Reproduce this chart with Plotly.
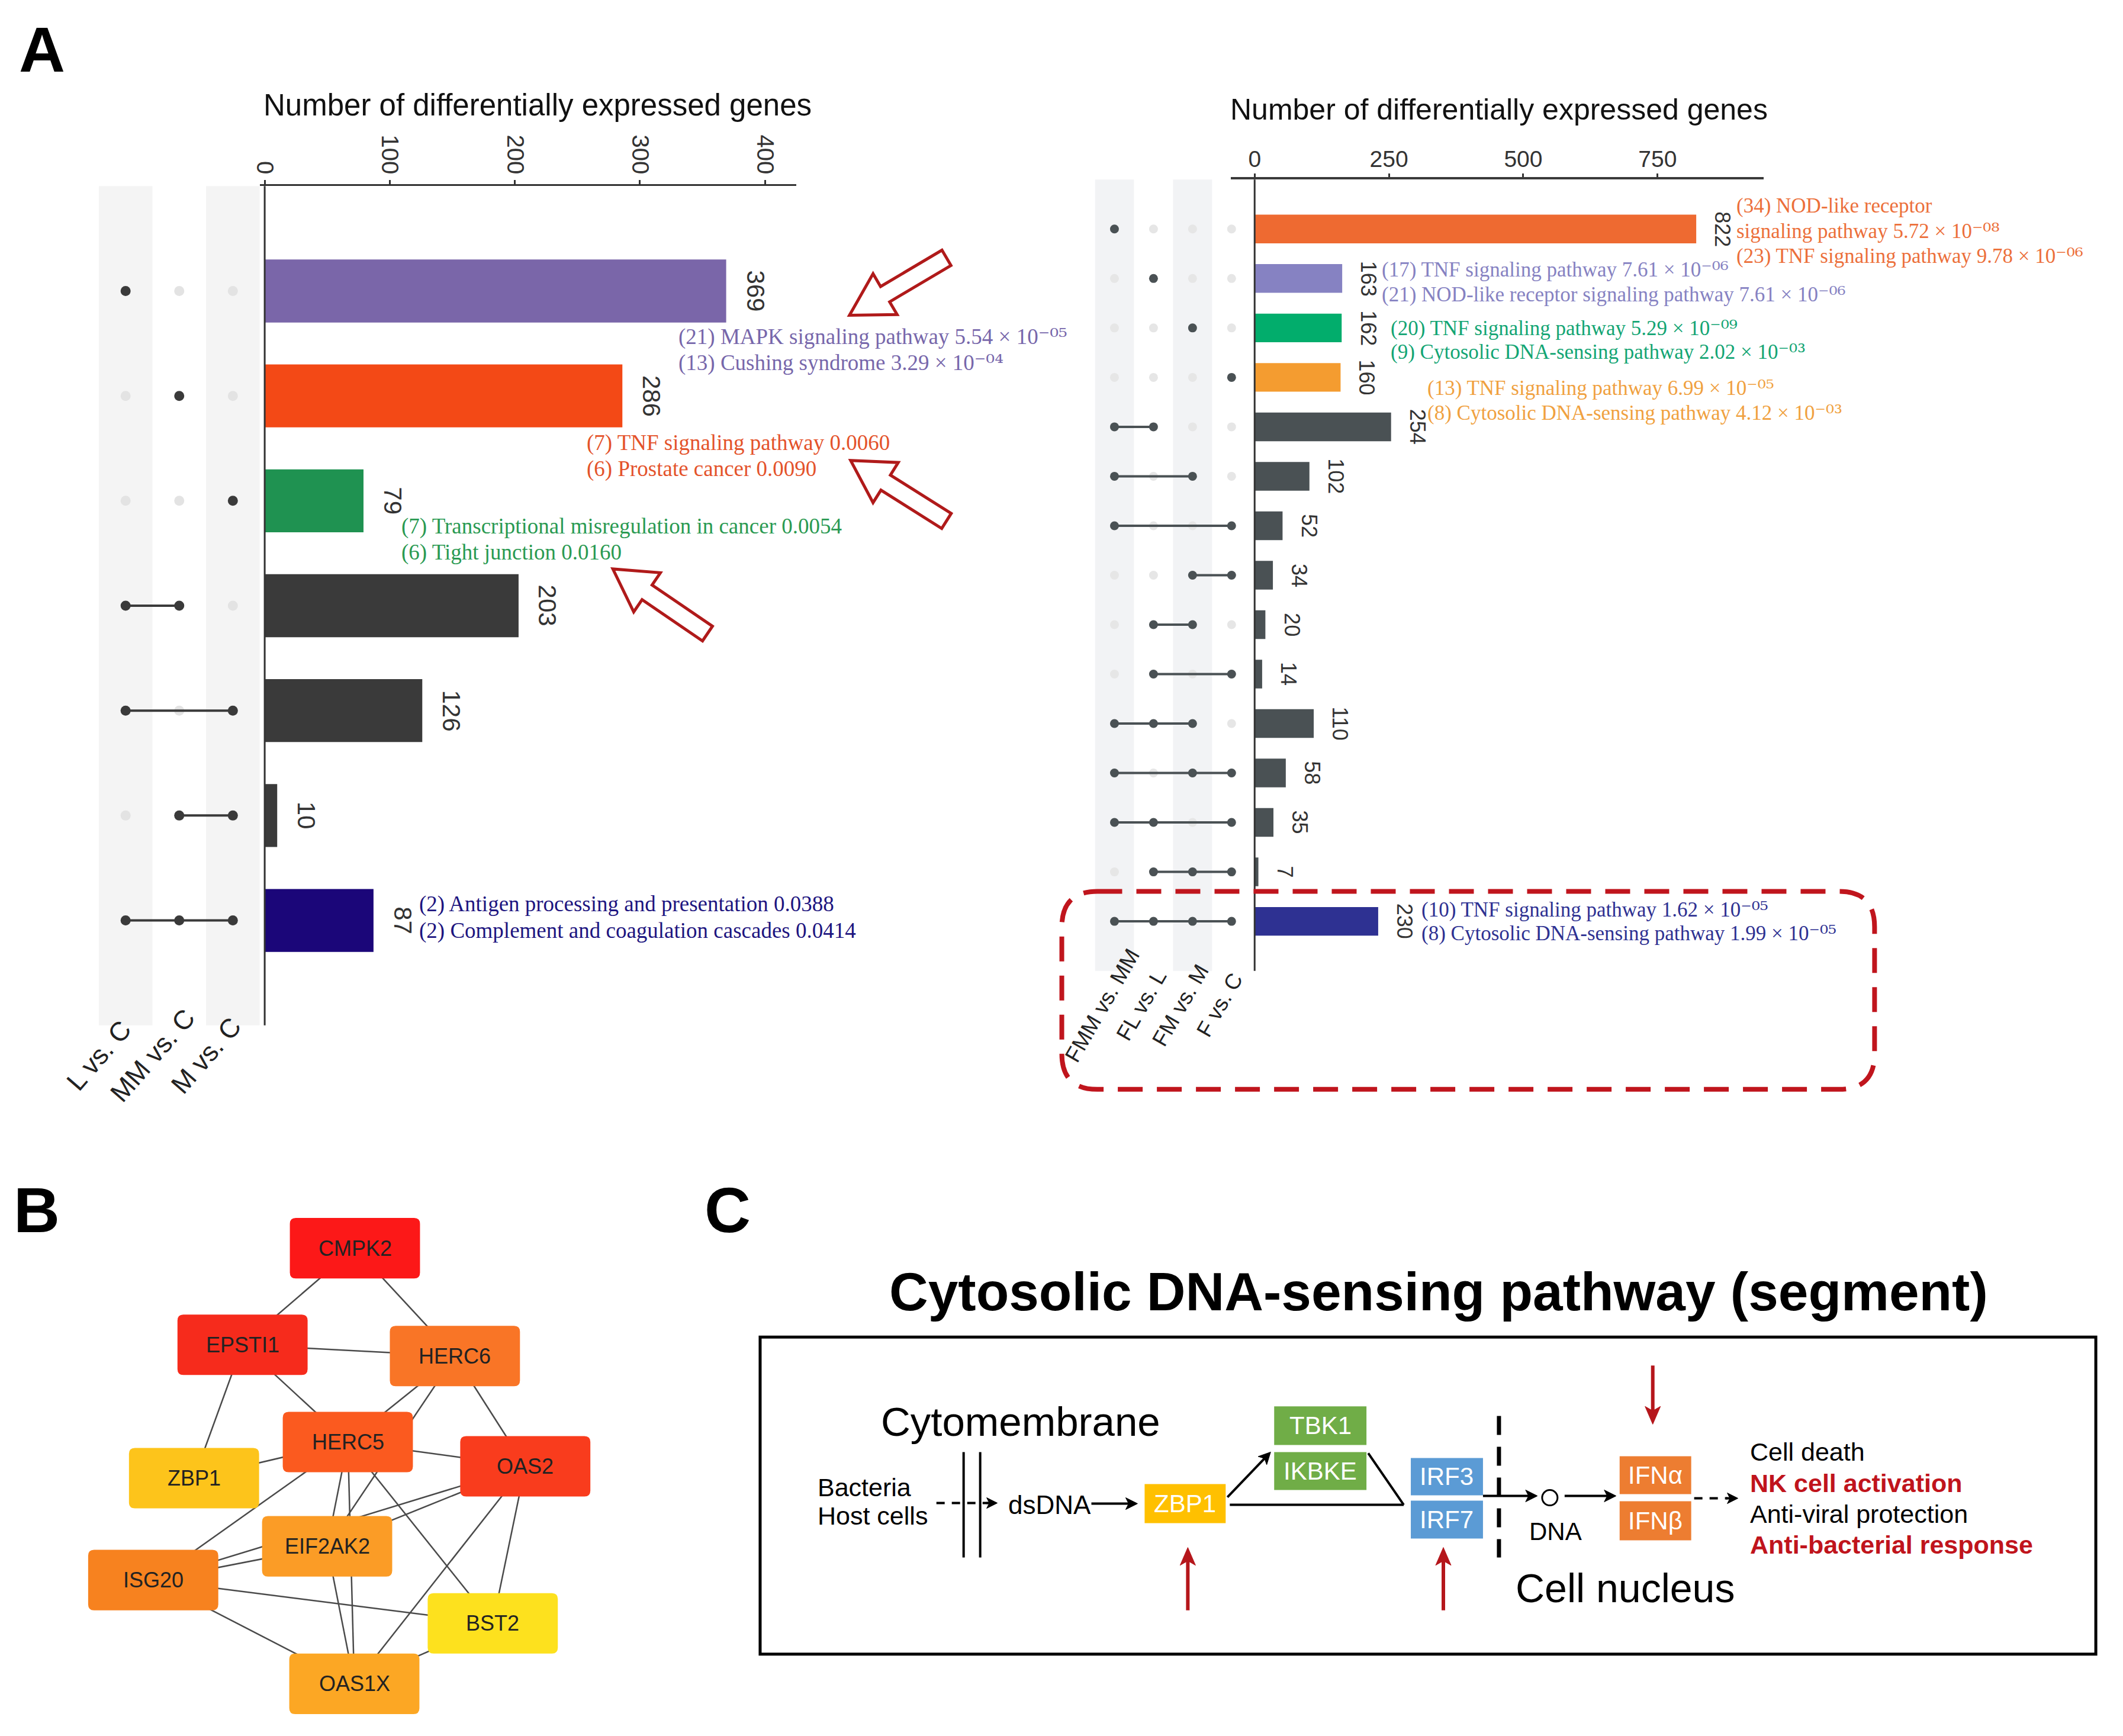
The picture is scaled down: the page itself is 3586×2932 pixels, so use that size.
import math
import re
import plotly.graph_objects as go

W, H = 3586, 2932

# ------------------------------------------------------------------ data
left_sets = ["L vs. C", "MM vs. C", "M vs. C"]
left_counts = [369, 286, 79, 203, 126, 10, 87]
left_members = [[1, 0, 0], [0, 1, 0], [0, 0, 1], [1, 1, 0], [1, 0, 1], [0, 1, 1], [1, 1, 1]]
left_colors = ["#7a66a9", "#f34916", "#1f9251", "#3a3a3a", "#3a3a3a", "#3a3a3a", "#1b0679"]
left_ticks = [0, 100, 200, 300, 400]
left_notes = [
    ["(21) MAPK signaling pathway 5.54 × 10⁻⁰⁵", "(13) Cushing syndrome 3.29 × 10⁻⁰⁴"],
    ["(7) TNF signaling pathway 0.0060", "(6) Prostate cancer 0.0090"],
    ["(7) Transcriptional misregulation in cancer 0.0054", "(6) Tight junction 0.0160"],
    ["(2) Antigen processing and presentation 0.0388", "(2) Complement and coagulation cascades 0.0414"],
]
left_note_colors = ["#7767ab", "#e4532b", "#2a9a52", "#1d1580"]

right_sets = ["FMM vs. MM", "FL vs. L", "FM vs. M", "F vs. C"]
right_counts = [822, 163, 162, 160, 254, 102, 52, 34, 20, 14, 110, 58, 35, 7, 230]
right_members = [
    [1, 0, 0, 0], [0, 1, 0, 0], [0, 0, 1, 0], [0, 0, 0, 1],
    [1, 1, 0, 0], [1, 0, 1, 0], [1, 0, 0, 1], [0, 0, 1, 1], [0, 1, 1, 0], [0, 1, 0, 1],
    [1, 1, 1, 0], [1, 0, 1, 1], [1, 1, 0, 1], [0, 1, 1, 1], [1, 1, 1, 1],
]
right_colors = ["#ee6a31", "#8682c2", "#02ad6c", "#f49c30"] + ["#4a5154"] * 10 + ["#2e3192"]
right_ticks = [0, 250, 500, 750]
right_notes = [
    ["(34) NOD-like receptor", "signaling pathway 5.72 × 10⁻⁰⁸",
     "(23) TNF signaling pathway 9.78 × 10⁻⁰⁶"],
    ["(17) TNF signaling pathway 7.61 × 10⁻⁰⁶",
     "(21) NOD-like receptor signaling pathway 7.61 × 10⁻⁰⁶"],
    ["(20) TNF signaling pathway 5.29 × 10⁻⁰⁹",
     "(9) Cytosolic DNA-sensing pathway 2.02 × 10⁻⁰³"],
    ["(13) TNF signaling pathway 6.99 × 10⁻⁰⁵",
     "(8) Cytosolic DNA-sensing pathway 4.12 × 10⁻⁰³"],
    ["(10) TNF signaling pathway 1.62 × 10⁻⁰⁵",
     "(8) Cytosolic DNA-sensing pathway 1.99 × 10⁻⁰⁵"],
]
right_note_colors = ["#ec6f3a", "#8682c2", "#13a574", "#f0a13f", "#2e3192"]

axis_title = "Number of differentially expressed genes"

genes = ["CMPK2", "EPSTI1", "HERC6", "HERC5", "ZBP1", "OAS2", "EIF2AK2", "ISG20", "BST2", "OAS1X"]
gene_colors = ["#fc1818", "#f62b1c", "#f97526", "#fb5a1f", "#fdc41b", "#f93c1d",
               "#fb9c26", "#f7821f", "#fde11e", "#fca724"]
edges = [("CMPK2", "EPSTI1"), ("CMPK2", "HERC6"), ("EPSTI1", "HERC6"), ("EPSTI1", "ZBP1"),
         ("EPSTI1", "HERC5"), ("HERC6", "HERC5"), ("HERC6", "EIF2AK2"), ("HERC6", "OAS2"),
         ("HERC5", "ZBP1"), ("HERC5", "OAS2"), ("HERC5", "ISG20"), ("HERC5", "EIF2AK2"),
         ("HERC5", "OAS1X"), ("HERC5", "BST2"), ("OAS2", "EIF2AK2"), ("OAS2", "ISG20"),
         ("ISG20", "EIF2AK2"), ("ISG20", "BST2"), ("ISG20", "OAS1X"), ("EIF2AK2", "OAS1X"),
         ("OAS2", "OAS1X"), ("OAS2", "BST2"), ("BST2", "OAS1X")]

pathway_title = "Cytosolic DNA-sensing pathway (segment)"
outcomes = ["Cell death", "NK cell activation", "Anti-viral protection", "Anti-bacterial response"]
outcome_highlight = [False, True, False, True]

# ------------------------------------------------------------------ layout helpers (pixels)
# small correction so that target pixel positions land where intended in the page photo
SX, OX = 0.9972, 19.0
SY, OY = 0.999, 9.0


def fx(px):
    return (px - OX) / SX / W


def fy(py):
    return 1 - (py - OY) / SY / H


def rrect(x0, y0, x1, y1, r):
    return (f"M{x0+r},{y0} L{x1-r},{y0} Q{x1},{y0} {x1},{y0+r} L{x1},{y1-r} "
            f"Q{x1},{y1} {x1-r},{y1} L{x0+r},{y1} Q{x0},{y1} {x0},{y1-r} "
            f"L{x0},{y0+r} Q{x0},{y0} {x0+r},{y0} Z")


def block_arrow(tip, tail, hl=70, wh=40, ws=15):
    tx, ty = tip
    sx, sy = tail
    L = math.hypot(tx - sx, ty - sy)
    ux, uy = (tx - sx) / L, (ty - sy) / L
    nx, ny = -uy, ux
    hx, hy = tx - ux * hl, ty - uy * hl
    pts = [(sx + nx * ws, sy + ny * ws), (hx + nx * ws, hy + ny * ws), (hx + nx * wh, hy + ny * wh),
           (tx, ty), (hx - nx * wh, hy - ny * wh), (hx - nx * ws, hy - ny * ws),
           (sx - nx * ws, sy - ny * ws)]
    return "M" + " L".join(f"{x:.1f},{y:.1f}" for x, y in pts) + " Z"


def head_path(head, tail, hl, hw):
    tx, ty = head
    sx, sy = tail
    L = math.hypot(tx - sx, ty - sy)
    ux, uy = (tx - sx) / L, (ty - sy) / L
    nx, ny = -uy, ux
    bx, by = tx - ux * hl, ty - uy * hl
    return (f"M{tx:.1f},{ty:.1f} L{bx + nx*hw:.1f},{by + ny*hw:.1f} "
            f"L{bx + ux*hl*0.25:.1f},{by + uy*hl*0.25:.1f} L{bx - nx*hw:.1f},{by - ny*hw:.1f} Z")


SANS = "Liberation Sans, Arial, sans-serif"
SERIF = "Liberation Serif, Times New Roman, serif"
SUP_RE = re.compile("([⁻⁰¹²³⁴⁵⁶⁷⁸⁹]+)")


def styled_sup(text, size):
    # render the superscript run in one font that carries all superscript glyphs
    return SUP_RE.sub(lambda m: f'<span style="font-family:DejaVu Serif;font-size:{size}px">'
                                f'{m.group(1)}</span>', text)


fig = go.Figure()
shapes = []
annotations = []


# ------------------------------------------------------------------ upset plot builder
def upset(counts, members, colors, sets, xa, ya, xm, bar_w, dot_size, dot_col, off_col, lw,
          band_col, band_cols, lab_font, lab_angle, lab_dx, lab_y, val_font, val_shift):
    n = len(counts)
    ys = list(range(n))
    fig.add_trace(go.Bar(x=counts, y=ys, orientation="h", marker_color=colors, width=bar_w,
                         marker_line_width=0, xaxis=xa, yaxis=ya, hoverinfo="x"))
    for j in band_cols:
        shapes.append(dict(type="rect", xref=xm, yref=ya + " domain", x0=j - 0.5, x1=j + 0.5,
                           y0=0, y1=1, fillcolor=band_col, line_width=0, layer="below"))
    offx, offy, onx, ony, lx, ly = [], [], [], [], [], []
    for i, row in enumerate(members):
        act = [j for j, m in enumerate(row) if m]
        for j, m in enumerate(row):
            if m:
                onx.append(j); ony.append(i)
            else:
                offx.append(j); offy.append(i)
        if len(act) > 1:
            lx += [min(act), max(act), None]
            ly += [i, i, None]
    fig.add_trace(go.Scatter(x=offx, y=offy, mode="markers", xaxis=xm, yaxis=ya,
                             marker=dict(size=dot_size, color=off_col), hoverinfo="skip"))
    fig.add_trace(go.Scatter(x=lx, y=ly, mode="lines", xaxis=xm, yaxis=ya,
                             line=dict(color=dot_col, width=lw), hoverinfo="skip"))
    fig.add_trace(go.Scatter(x=onx, y=ony, mode="markers", xaxis=xm, yaxis=ya,
                             marker=dict(size=dot_size, color=dot_col), hoverinfo="skip"))
    for i, c in enumerate(counts):
        annotations.append(dict(x=c, y=i, xref=xa, yref=ya, text=str(c), textangle=90,
                                showarrow=False, xanchor="left", yanchor="middle", xshift=val_shift,
                                font=dict(family=SANS, size=val_font, color="#333333")))
    for j, s in enumerate(sets):
        annotations.append(dict(x=j, y=lab_y, xref=xm, yref="y5", text=s, textangle=lab_angle,
                                showarrow=False, xanchor="center", yanchor="middle", xshift=lab_dx,
                                font=dict(family=SANS, size=lab_font, color="#222222")))
    shapes.append(dict(type="line", xref=xa, yref=ya + " domain", x0=0, x1=0, y0=0, y1=1,
                       line=dict(color="#333333", width=3)))


upset(left_counts, left_members, left_colors, left_sets, "x", "y", "x2", 0.6, 17,
      "#3a3a3a", "#e3e3e3", 4, "#f4f4f4", [0, 2], 45, -49, -45, 1782, 42, 24)
upset(right_counts, right_members, right_colors, right_sets, "x3", "y3", "x4", 0.58, 15,
      "#4a5154", "#e6e6e6", 4, "#f2f3f5", [0, 2], 37, -60, -20, 1697, 36, 22)

# axis titles
annotations.append(dict(x=907, y=178, xref="x5", yref="y5", text=axis_title, showarrow=False,
                        font=dict(family=SANS, size=51, color="#111111")))
annotations.append(dict(x=2532, y=186, xref="x5", yref="y5", text=axis_title, showarrow=False,
                        font=dict(family=SANS, size=50, color="#111111")))

# enrichment notes
left_note_pos = [(1143, [569, 613]), (988, [748, 792]), (675, [889, 933]), (705, [1526, 1571])]
for lines, col, (px, pys) in zip(left_notes, left_note_colors, left_note_pos):
    for t, py in zip(lines, pys):
        annotations.append(dict(x=px, y=py, xref="x5", yref="y5", text=styled_sup(t, 37),
                                showarrow=False, xanchor="left", yanchor="middle",
                                font=dict(family=SERIF, size=37, color=col)))
right_note_pos = [(2931, [348, 391, 433]), (2332, [456, 498]), (2347, [554, 594]),
                  (2409, [655, 697]), (2399, [1535, 1575])]
for lines, col, (px, pys) in zip(right_notes, right_note_colors, right_note_pos):
    for t, py in zip(lines, pys):
        annotations.append(dict(x=px, y=py, xref="x5", yref="y5", text=styled_sup(t, 35),
                                showarrow=False, xanchor="left", yanchor="middle",
                                font=dict(family=SERIF, size=35, color=col)))

# hollow red arrows
for tip, tail in [((1434, 533), (1598, 436)), ((1436, 778), (1598, 880)), ((1034, 961), (1194, 1070))]:
    shapes.append(dict(type="path", xref="x5", yref="y5", path=block_arrow(tip, tail),
                       fillcolor="white", line=dict(color="#b01a1a", width=5), layer="above"))

# red dashed rounded box
shapes.append(dict(type="path", xref="x5", yref="y5", path=rrect(1793, 1505, 3167, 1839, 60),
                   line=dict(color="#c0151d", width=8, dash="42px,24px"), layer="above"))

# panel letters
for lab, px, py in [("A", 69, 84), ("B", 60, 2042), ("C", 1228, 2042)]:
    annotations.append(dict(x=px, y=py, xref="x5", yref="y5", text=f"<b>{lab}</b>", showarrow=False,
                            font=dict(family=SANS, size=108, color="black")))

# ------------------------------------------------------------------ panel B network
node_xy = {"CMPK2": (598, 2107), "EPSTI1": (408, 2270), "HERC6": (767, 2289), "HERC5": (586, 2434),
           "ZBP1": (326, 2495), "OAS2": (886, 2475), "EIF2AK2": (551, 2610), "ISG20": (257, 2667),
           "BST2": (831, 2740), "OAS1X": (597, 2842)}
ex, ey = [], []
for a, b in edges:
    ex += [node_xy[a][0], node_xy[b][0], None]
    ey += [node_xy[a][1], node_xy[b][1], None]
fig.add_trace(go.Scatter(x=ex, y=ey, mode="lines", xaxis="x5", yaxis="y5",
                         line=dict(color="#4a4a4a", width=2.5), hoverinfo="skip"))
for g, c in zip(genes, gene_colors):
    cx, cy = node_xy[g]
    shapes.append(dict(type="path", xref="x5", yref="y5",
                       path=rrect(cx - 110, cy - 51, cx + 110, cy + 51, 10),
                       fillcolor=c, line_width=0, layer="above"))
    annotations.append(dict(x=cx, y=cy, xref="x5", yref="y5", text=g, showarrow=False,
                            font=dict(family=SANS, size=36, color="#222222")))

# ------------------------------------------------------------------ panel C pathway
annotations.append(dict(x=2430, y=2180, xref="x5", yref="y5", text=f"<b>{pathway_title}</b>",
                        showarrow=False, font=dict(family=SANS, size=91, color="black")))
shapes.append(dict(type="rect", xref="x5", yref="y5", x0=1283, y0=2257, x1=3541, y1=2792,
                   line=dict(color="black", width=5), fillcolor="rgba(0,0,0,0)"))
annotations.append(dict(x=1723, y=2400, xref="x5", yref="y5", text="Cytomembrane", showarrow=False,
                        font=dict(family=SANS, size=69, color="black")))
annotations.append(dict(x=2745, y=2680, xref="x5", yref="y5", text="Cell nucleus", showarrow=False,
                        font=dict(family=SANS, size=68, color="black")))
for t, py in [("Bacteria", 2510), ("Host cells", 2558)]:
    annotations.append(dict(x=1378, y=py, xref="x5", yref="y5", text=t, showarrow=False,
                            xanchor="left", font=dict(family=SANS, size=43, color="black")))
annotations.append(dict(x=1700, y=2540, xref="x5", yref="y5", text="dsDNA", showarrow=False,
                        xanchor="left", font=dict(family=SANS, size=44, color="black")))
annotations.append(dict(x=2628, y=2585, xref="x5", yref="y5", text="DNA", showarrow=False,
                        font=dict(family=SANS, size=42, color="black")))
for mx in (1627, 1655):
    shapes.append(dict(type="line", xref="x5", yref="y5", x0=mx, x1=mx, y0=2451, y1=2629,
                       line=dict(color="black", width=4)))
shapes.append(dict(type="line", xref="x5", yref="y5", x0=2532, x1=2532, y0=2390, y1=2629,
                   line=dict(color="black", width=7, dash="32px,20px")))
boxes = [("ZBP1", 1933, 2505, 2070, 2571, "#ffc000"), ("TBK1", 2152, 2374, 2308, 2439, "#70ad47"),
         ("IKBKE", 2152, 2451, 2308, 2515, "#70ad47"), ("IRF3", 2383, 2461, 2505, 2524, "#5b9bd5"),
         ("IRF7", 2383, 2533, 2505, 2597, "#5b9bd5"), ("IFNα", 2736, 2458, 2857, 2522, "#ed7d31"),
         ("IFNβ", 2736, 2534, 2857, 2600, "#ed7d31")]
for lab, x0, y0, x1, y1, col in boxes:
    shapes.append(dict(type="rect", xref="x5", yref="y5", x0=x0, y0=y0, x1=x1, y1=y1,
                       fillcolor=col, line_width=0))
    annotations.append(dict(x=(x0 + x1) / 2, y=(y0 + y1) / 2, xref="x5", yref="y5", text=lab,
                            showarrow=False, font=dict(family=SANS, size=42, color="white")))
for (x0, y0, x1, y1) in [(2077, 2540, 2371, 2540), (2311, 2453, 2371, 2540)]:
    shapes.append(dict(type="line", xref="x5", yref="y5", x0=x0, y0=y0, x1=x1, y1=y1,
                       line=dict(color="black", width=4)))
for (x0, y0, x1, y1) in [(1581, 2537, 1668, 2537), (2862, 2529, 2918, 2529)]:
    shapes.append(dict(type="line", xref="x5", yref="y5", x0=x0, y0=y0, x1=x1, y1=y1,
                       line=dict(color="black", width=4, dash="14px,12px")))
shapes.append(dict(type="circle", xref="x5", yref="y5", x0=2605, y0=2515, x1=2631, y1=2541,
                   line=dict(color="black", width=3), fillcolor="white"))


def arrow(head, tail, color="black", width=4, hl=20, hw=10):
    tx, ty = head
    sx, sy = tail
    L = math.hypot(tx - sx, ty - sy)
    ux, uy = (tx - sx) / L, (ty - sy) / L
    shapes.append(dict(type="line", xref="x5", yref="y5", x0=sx, y0=sy,
                       x1=tx - ux * hl * 0.6, y1=ty - uy * hl * 0.6,
                       line=dict(color=color, width=width)))
    shapes.append(dict(type="path", xref="x5", yref="y5", path=head_path(head, tail, hl, hw),
                       fillcolor=color, line=dict(color=color, width=1)))


arrow((1921, 2538), (1843, 2538))
arrow((2146, 2451), (2073, 2527))
arrow((2597, 2525), (2505, 2525))
arrow((2730, 2525), (2643, 2525))
arrow((1684, 2537), (1666, 2537), hl=18, hw=9)
arrow((2936, 2529), (2916, 2529), hl=18, hw=9)
arrow((2006, 2612), (2006, 2718), "#b5161b", 6, 30, 13)
arrow((2438, 2612), (2438, 2718), "#b5161b", 6, 30, 13)
arrow((2792, 2404), (2792, 2305), "#b5161b", 6, 30, 13)

for i, (t, hl) in enumerate(zip(outcomes, outcome_highlight)):
    annotations.append(dict(x=2954, y=2451 + i * 52, xref="x5", yref="y5",
                            text=f"<b>{t}</b>" if hl else t, showarrow=False, xanchor="left",
                            font=dict(family=SANS, size=43, color="#c0141c" if hl else "black")))

# ------------------------------------------------------------------ axes
hidden = dict(visible=False, showgrid=False, zeroline=False, fixedrange=True)
fig.update_layout(
    width=W, height=H, autosize=False, margin=dict(l=0, r=0, t=0, b=0),
    paper_bgcolor="white", plot_bgcolor="rgba(0,0,0,0)", showlegend=False,
    xaxis=dict(domain=[fx(437), fx(1344)], range=[-4, 425], side="top", anchor="y",
               tickvals=left_ticks, tickangle=90, ticks="outside", ticklen=7, tickwidth=3,
               tickcolor="#333333", showline=True, linewidth=3, linecolor="#333333",
               showgrid=False, zeroline=False, ticklabelstandoff=-4,
               tickfont=dict(family=SANS, size=40, color="#333333")),
    yaxis=dict(domain=[fy(1731), fy(315)], range=[7, -1], anchor="x", showticklabels=False,
               showgrid=False, zeroline=False, ticks=""),
    xaxis2=dict(domain=[fx(165), fx(446)], range=[-0.5, 2.6], anchor="y", **hidden),
    xaxis3=dict(domain=[fx(2079), fx(2979)], range=[-44, 947], side="top", anchor="y3",
                tickvals=right_ticks, ticks="outside", ticklen=6, tickwidth=3,
                tickcolor="#333333", showline=True, linewidth=4, linecolor="#3a3a3a",
                showgrid=False, zeroline=False, ticklabelstandoff=-4,
                tickfont=dict(family=SANS, size=39, color="#333333")),
    yaxis3=dict(domain=[fy(1639), fy(304)], range=[15, -1], anchor="x3", showticklabels=False,
                showgrid=False, zeroline=False, ticks=""),
    xaxis4=dict(domain=[fx(1849), fx(2112)], range=[-0.5, 3.485], anchor="y3", **hidden),
    xaxis5=dict(domain=[0, 1], range=[OX, OX + W * SX], anchor="y5", **hidden),
    yaxis5=dict(domain=[0, 1], range=[OY + H * SY, OY], anchor="x5", **hidden),
    shapes=shapes, annotations=annotations,
)

fig.write_html("out.html")
